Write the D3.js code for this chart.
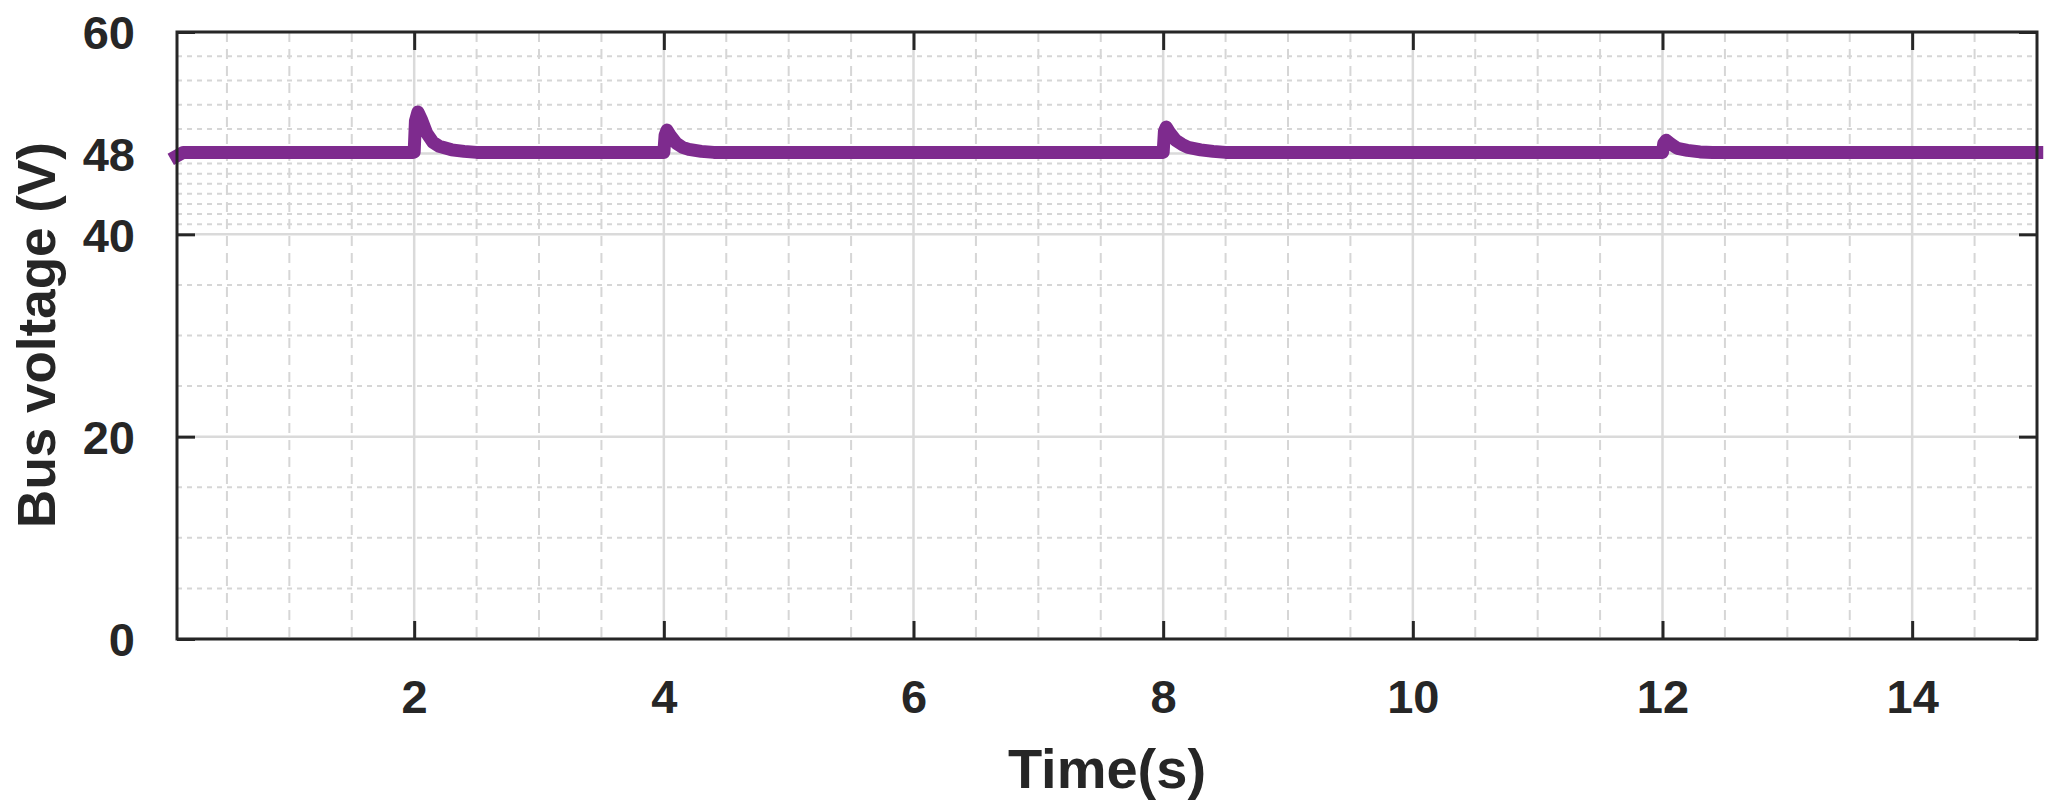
<!DOCTYPE html>
<html>
<head>
<meta charset="utf-8">
<script src="https://cdn.jsdelivr.net/npm/d3@7/dist/d3.min.js"></script>
<style>
  html, body { margin: 0; padding: 0; background: #ffffff; }
  svg { display: block; }
</style>
</head>
<body>
<svg id="chart" width="2054" height="812"></svg>
<script>
// ---- data ----
const timeS = [0.05, 0.15, 1.0, 1.99, 2.0, 2.01, 2.03, 2.06, 2.1, 2.15, 2.2, 2.3, 2.4, 2.5,
  3.0, 3.99, 4.0, 4.01, 4.025, 4.05, 4.1, 4.15, 4.2, 4.3, 4.4,
  6.0, 7.99, 8.0, 8.01, 8.025, 8.05, 8.1, 8.15, 8.2, 8.3, 8.4, 8.5,
  10.0, 11.99, 12.0, 12.01, 12.03, 12.07, 12.12, 12.2, 12.3, 12.4, 14.0, 15.05];
const busVoltage = [47.4, 48.1, 48.1, 48.1, 48.15, 51.2, 52.1, 51.3, 50.0, 49.1, 48.7, 48.35, 48.2, 48.1,
  48.1, 48.1, 48.1, 49.8, 50.3, 49.8, 49.0, 48.6, 48.4, 48.2, 48.1,
  48.1, 48.1, 48.1, 50.2, 50.6, 50.1, 49.3, 48.9, 48.6, 48.35, 48.2, 48.1,
  48.1, 48.1, 48.1, 49.0, 49.3, 48.9, 48.5, 48.3, 48.15, 48.1, 48.1, 48.1];
const xTicks = [2, 4, 6, 8, 10, 12, 14];
const yTicks = [0, 20, 40, 48, 60];
const xMinor = [0.5, 1, 1.5, 2.5, 3, 3.5, 4.5, 5, 5.5, 6.5, 7, 7.5, 8.5, 9, 9.5,
  10.5, 11, 11.5, 12.5, 13, 13.5, 14.5];
const yMinor = [5, 10, 15, 25, 30, 35, 41, 42, 43, 44, 45, 46, 47, 50.4, 52.8, 55.2, 57.6];
const xDomain = [0.1, 15];
const yDomain = [0, 60];
const xLabel = "Time(s)";
const yLabel = "Bus voltage (V)";

// ---- layout ----
const L = 177, R = 2037, T = 32, B = 639;
const svg = d3.select("#chart");
const x = d3.scaleLinear().domain(xDomain).range([L, R]);
const y = d3.scaleLinear().domain(yDomain).range([B, T]);
const ink = "#262626";
const font = "'Liberation Sans', Arial, Helvetica, sans-serif";

// minor grid
const g = svg.append("g");
g.selectAll("line.xm").data(xMinor).join("line")
  .attr("x1", d => x(d)).attr("x2", d => x(d)).attr("y1", T).attr("y2", B)
  .attr("stroke", "#d6d6d6").attr("stroke-width", 2).attr("stroke-dasharray", "10,7");
g.selectAll("line.ym").data(yMinor).join("line")
  .attr("y1", d => y(d)).attr("y2", d => y(d)).attr("x1", L).attr("x2", R)
  .attr("stroke", "#d6d6d6").attr("stroke-width", 2).attr("stroke-dasharray", "5,5");
// major grid
g.selectAll("line.xg").data(xTicks).join("line")
  .attr("x1", d => x(d)).attr("x2", d => x(d)).attr("y1", T).attr("y2", B)
  .attr("stroke", "#dadada").attr("stroke-width", 2.5);
g.selectAll("line.yg").data(yTicks).join("line")
  .attr("y1", d => y(d)).attr("y2", d => y(d)).attr("x1", L).attr("x2", R)
  .attr("stroke", "#dadada").attr("stroke-width", 2.5);

// axes via d3 axis generators (inner ticks)
const tickLen = 18;
const axB = svg.append("g").attr("transform", `translate(0,${B})`)
  .call(d3.axisBottom(x).tickValues(xTicks).tickSize(-tickLen).tickFormat(d3.format("d")));
const axT = svg.append("g").attr("transform", `translate(0,${T})`)
  .call(d3.axisTop(x).tickValues(xTicks).tickSize(-tickLen).tickFormat(""));
const axL = svg.append("g").attr("transform", `translate(${L},0)`)
  .call(d3.axisLeft(y).tickValues(yTicks).tickSize(-tickLen).tickFormat(d3.format("d")).tickPadding(tickLen + 24));
const axR = svg.append("g").attr("transform", `translate(${R},0)`)
  .call(d3.axisRight(y).tickValues(yTicks).tickSize(-tickLen).tickFormat(""));
[axB, axT, axL, axR].forEach(a => {
  a.select(".domain").remove();
  a.selectAll(".tick line").attr("stroke", ink).attr("stroke-width", 3);
  a.selectAll("text").attr("fill", ink).attr("font-family", font)
    .attr("font-weight", "bold").attr("font-size", 47);
});
axB.selectAll("text").attr("dy", null).attr("y", 74);
axL.selectAll("text").attr("dy", "0.36em");

// data line
svg.append("path")
  .datum(timeS.map((t, i) => [t, busVoltage[i]]))
  .attr("fill", "none")
  .attr("stroke", "#7e2b8e")
  .attr("stroke-width", 13)
  .attr("stroke-linejoin", "round")
  .attr("d", d3.line().x(d => x(d[0])).y(d => y(d[1])));

// box
svg.append("rect").attr("x", L).attr("y", T).attr("width", R - L).attr("height", B - T)
  .attr("fill", "none").attr("stroke", ink).attr("stroke-width", 3);

// labels
svg.append("text").attr("x", (L + R) / 2).attr("y", 788)
  .attr("text-anchor", "middle").attr("font-family", font).attr("font-weight", "bold")
  .attr("font-size", 56).attr("fill", ink).text(xLabel);
svg.append("text").attr("transform", "translate(55,335) rotate(-90)")
  .attr("text-anchor", "middle").attr("font-family", font).attr("font-weight", "bold")
  .attr("font-size", 53).attr("fill", ink).text(yLabel);
</script>
</body>
</html>
